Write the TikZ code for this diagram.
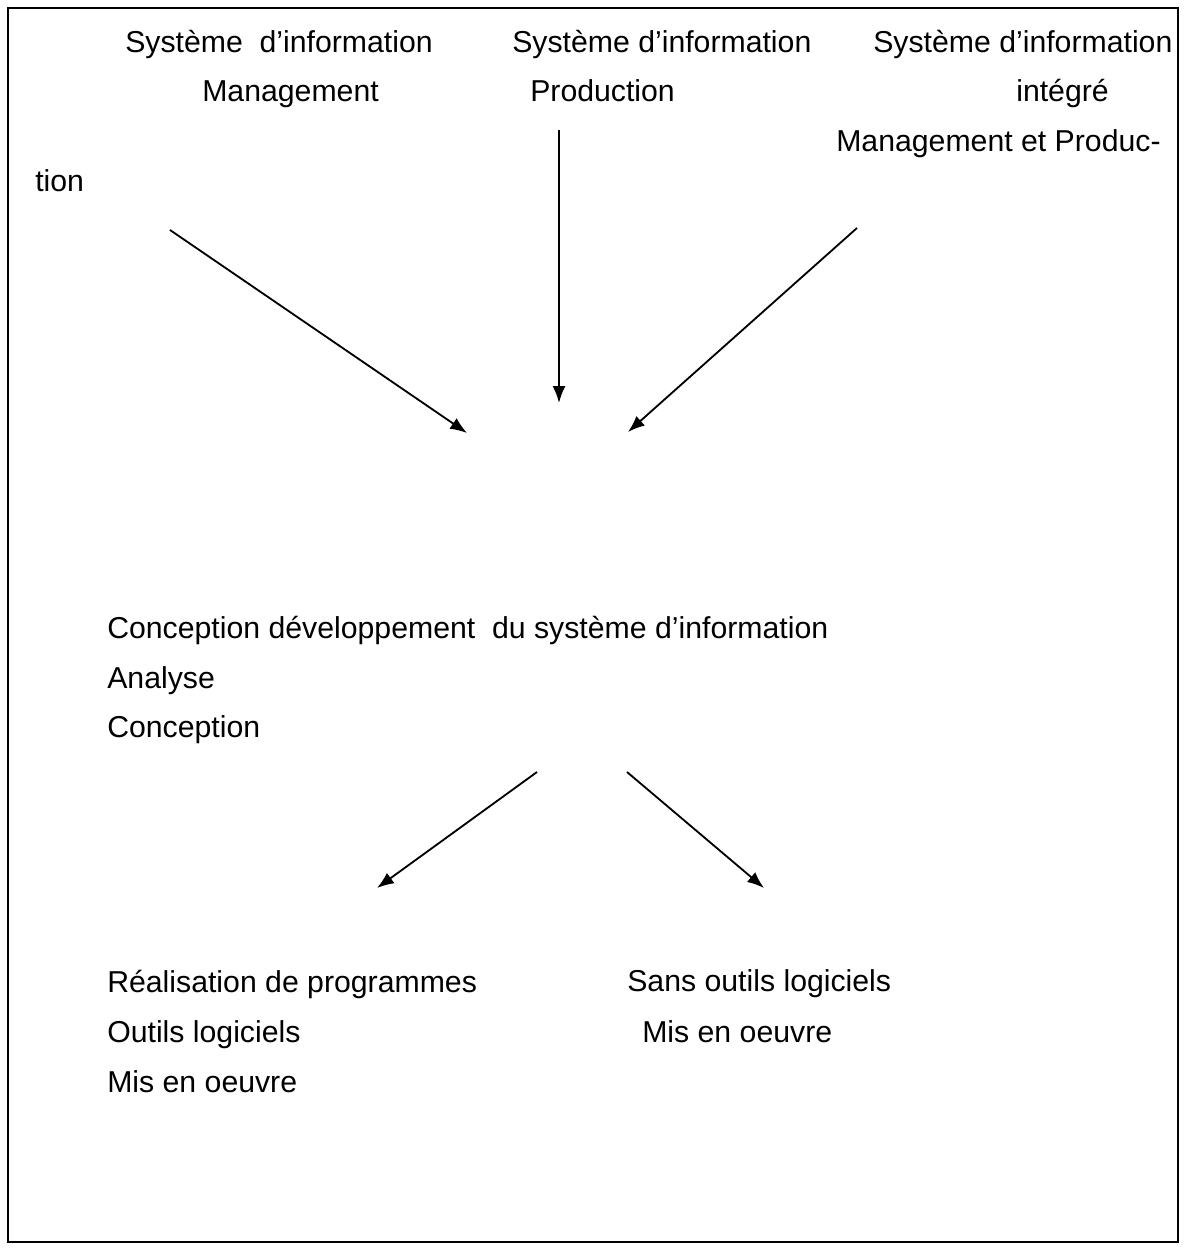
\documentclass[tikz,border=0pt]{standalone}
\usepackage{fontspec}
\setmainfont{Liberation Sans}
\usepackage{tikz}
\usetikzlibrary{arrows.meta,positioning}

\begin{document}
\begin{tikzpicture}[
    x=0.025cm, y=-0.025cm,
    txt/.style={anchor=base west, inner sep=0pt, font=\fontsize{21.5}{26}\selectfont},
    arrow/.style={-{Latex[length=0.42cm, width=0.32cm]}, line width=1.3pt}
]
    \useasboundingbox (0,0) rectangle (1190,1253);
    \draw[line width=1.4pt] (8,8) rectangle (1178,1242);

    % the three sources
    \node[txt] (simtop) at (125,53) {Système~~d’information};
    \node[txt] (simbot) at (202,102) {Management};
    \node[txt] (siptop) at (512,53) {Système d’information};
    \node[txt] (sipbot) at (530,102) {Production};
    \node[txt] (siitop) at (873,53) {Système d’information};
    \node[txt] (siimid) at (1016,102) {intégré};
    \node[txt] (siibot) at (836,152) {Management et Produc-};
    \node[txt] (siitail) at (35,192) {tion};

    % design
    \node[txt] (conc) at (107,638) {Conception développement~~du système d’information};
    \node[txt] (ana) at (107,688) {Analyse};
    \node[txt] (concb) at (107,737) {Conception};

    % the two ways
    \node[txt] (real) at (107,992) {Réalisation de programmes};
    \node[txt] (outl) at (107,1042) {Outils logiciels};
    \node[txt] (misl) at (107,1092) {Mis en oeuvre};
    \node[txt] (sans) at (627,991) {Sans outils logiciels};
    \node[txt] (misr) at (642,1042) {Mis en oeuvre};

    \coordinate (a1s) at (170,230);
    \coordinate (a1e) at (467,433);
    \coordinate (a2s) at (559,130);
    \coordinate (a2e) at (559,403);
    \coordinate (a3s) at (857,228);
    \coordinate (a3e) at (628,432);
    \coordinate (b1s) at (537,772);
    \coordinate (b1e) at (377,888);
    \coordinate (b2s) at (627,772);
    \coordinate (b2e) at (764,888);

    \draw[arrow] (a1s) -- (a1e);
    \draw[arrow] (a2s) -- (a2e);
    \draw[arrow] (a3s) -- (a3e);
    \draw[arrow] (b1s) -- (b1e);
    \draw[arrow] (b2s) -- (b2e);
\end{tikzpicture}
\end{document}
